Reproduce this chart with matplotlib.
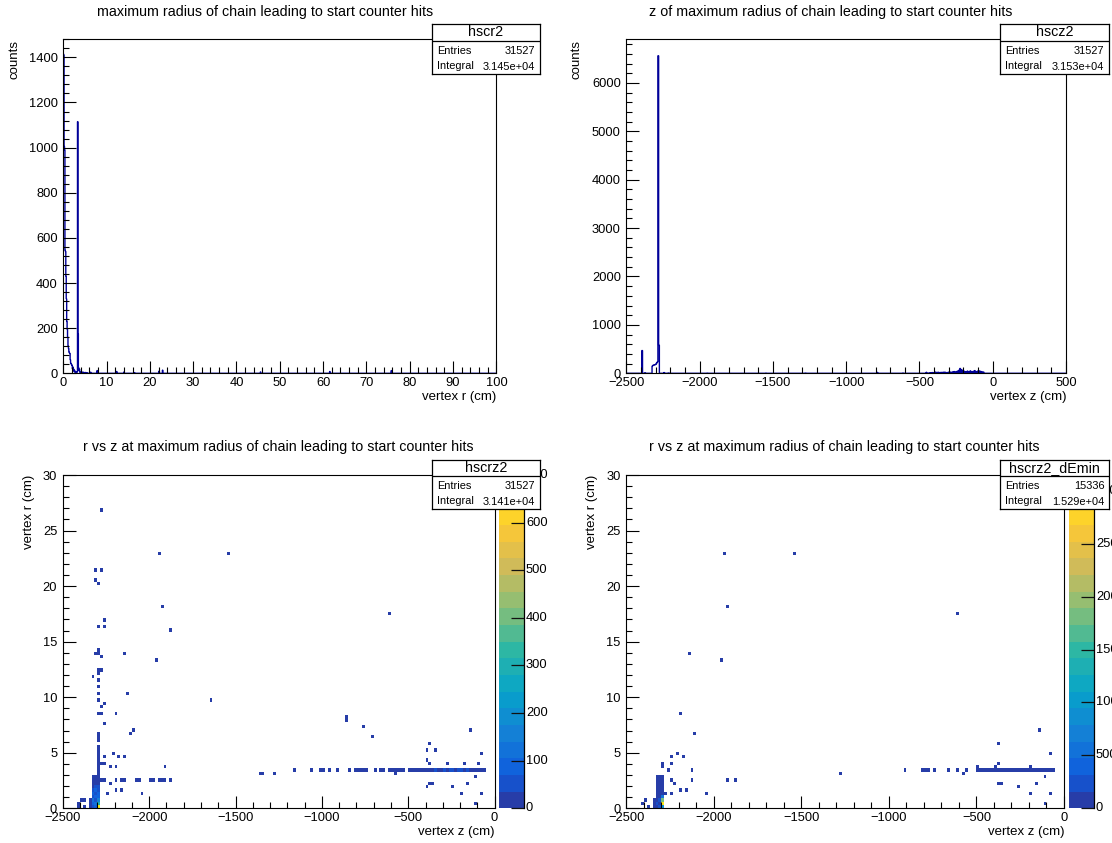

# =============================================================================
# start counter chain plots — 2x2 canvas, ROOT look-alike
# =============================================================================
import numpy as np
import matplotlib
matplotlib.use("Agg")
import matplotlib.pyplot as plt
import matplotlib.transforms as mtransforms
from matplotlib.colors import LinearSegmentedColormap, ListedColormap, BoundaryNorm
from matplotlib.ticker import MultipleLocator, FixedLocator

plt.rcParams["font.family"] = ["Liberation Sans", "DejaVu Sans"]


# SECTION 1 — DATA

# r histogram, 0.1 cm bins — bin centres and counts of the non-empty bins
R_CENTERS = [0.05, 0.15, 0.25, 0.35, 0.45, 0.55, 0.65, 0.75, 0.85, 0.95,
             1.05, 1.15, 1.25, 1.35, 1.45, 1.55, 1.65, 1.75, 1.85, 1.95,
             2.05, 2.15, 2.25, 2.35, 2.45, 2.55, 2.65, 2.75, 2.85, 2.95,
             3.05, 3.15, 3.25, 3.35, 3.45, 3.55, 3.65, 3.75, 3.85, 3.95,
             4.15, 4.55, 5.05, 5.45, 6.35, 7.85, 12.35, 14.05, 16.45,
             22.15, 22.95, 45.55, 61.55, 75.75]
R_COUNTS = [1415, 1410, 1005, 990, 545, 540, 430, 330, 230, 195,
            160, 120, 110, 95, 90, 88, 60, 45, 42, 38,
            35, 20, 28, 12, 18, 8, 6, 10, 5, 4,
            6, 4, 8, 1115, 175, 25, 12, 18, 6, 4,
            5, 6, 4, 3, 5, 12, 8, 6, 3,
            10, 14, 6, 8, 12]

# z histogram, 5 cm bins
Z_CENTERS = [-2392.5, -2372.5, -2322.5, -2317.5, -2312.5, -2307.5, -2302.5, -2297.5,
             -2292.5, -2287.5, -2282.5, -2277.5, -2242.5, -2212.5,
             -1947.5, -1547.5, -1277.5, -787.5, -612.5,
             -452.5, -432.5, -422.5, -412.5, -402.5, -392.5, -382.5, -372.5, -362.5, -352.5,
             -342.5, -332.5, -322.5, -312.5, -302.5, -292.5, -282.5, -272.5, -262.5, -252.5,
             -242.5, -232.5, -222.5, -212.5, -202.5, -192.5, -182.5, -172.5, -162.5, -152.5,
             -142.5, -132.5, -122.5, -112.5, -102.5, -92.5, -82.5, -72.5, -62.5]
Z_COUNTS = [470, 10, 150, 165, 170, 175, 180, 190,
            215, 235, 6560, 580, 15, 6,
            3, 3, 4, 18, 4,
            20, 8, 12, 15, 10, 25, 18, 22, 15, 20,
            18, 25, 20, 15, 22, 28, 20, 30, 35, 28,
            40, 60, 100, 75, 55, 40, 30, 45, 35, 50,
            30, 40, 55, 35, 45, 50, 40, 30, 25]

# 2D core block: columns in z, rows in r (bins of 16.7 cm x 0.3 cm)
CORE_Z = [-2342, -2325, -2308, -2292]
CORE_R = [0.15, 0.45, 0.75, 1.05, 1.35, 1.65, 1.95, 2.25, 2.55, 2.85]
CORE_ALL = [
    [4, 40, 90, 660],
    [6, 75, 130, 280],
    [3, 110, 60, 150],
    [0, 45, 95, 80],
    [0, 80, 40, 75],
    [0, 35, 70, 45],
    [0, 25, 40, 38],
    [0, 18, 22, 25],
    [0, 10, 12, 15],
    [0, 3, 5, 8],
]
CORE_DEMIN = [
    [3, 25, 180, 900],
    [5, 170, 60, 2950],
    [2, 35, 200, 1800],
    [0, 28, 45, 600],
    [0, 35, 30, 150],
    [0, 22, 35, 60],
    [0, 18, 25, 40],
    [0, 12, 15, 25],
    [0, 6, 8, 10],
    [0, 2, 3, 2],
]

# hscrz2: vertical column above the core at z = -2292
ALL_COL_R = [3.15, 3.45, 3.75, 4.05, 4.35, 4.65, 4.95, 5.25, 5.55, 6.15, 6.45, 6.75]
ALL_COL_W = [12, 15, 10, 8, 9, 7, 6, 8, 5, 4, 3, 3]

# hscrz2: scattered bins
ALL_PTS_Z = [-2271, -1950, -1546, -2304, -2273, -2304, -2290, -1921, -610, -2265,
             -2290, -2265, -1879, -2313, -2292, -2290, -2142, -2267, -1960, -2290,
             -2267, -2290, -2323, -2290, -2290, -2290, -2125, -1648, -2290, -2267,
             -2254, -2290, -2275, -2194, -865, -854, -2265, -754, -137, -2094,
             -2110, -708, -371, -340, -392, -83, -2213, -2254, -2171, -2142,
             -392, -267, -167, -100, -371, -2254, -2275, -1910, -2233, -2194,
             -2233, -2200, -2158, -2250, -2038, -379, -360, -250, -152, -110,
             -187, -83, -110, -398, -2402, -2408, -2388, -2371, -2379, -1354,
             -1344, -1277, -578]
ALL_PTS_R = [26.85, 22.95, 22.95, 21.45, 21.45, 20.55, 20.25, 18.15, 17.55, 16.95,
             16.35, 16.35, 16.05, 14.05, 14.35, 14.05, 14.05, 13.65, 13.35, 12.45,
             12.45, 12.15, 11.85, 11.55, 10.95, 10.35, 10.35, 9.75, 9.75, 9.15,
             9.45, 8.55, 8.55, 8.55, 8.25, 7.95, 7.65, 7.35, 7.05, 7.05,
             6.75, 6.45, 5.85, 5.25, 5.25, 4.95, 4.95, 4.65, 4.65, 4.65,
             4.35, 4.05, 4.05, 4.05, 4.05, 4.05, 4.05, 3.75, 3.75, 3.75,
             2.25, 1.65, 1.65, 1.35, 1.35, 2.25, 2.25, 1.95, 2.25, 2.85,
             1.35, 1.35, 0.45, 1.95, 0.45, 0.15, 0.75, 0.75, 0.15, 3.15,
             3.15, 3.15, 3.15]
ALL_PTS_W = [1, 1, 2, 2, 1, 2, 2, 2, 2, 2,
             2, 2, 1, 1, 1, 2, 1, 2, 2, 2,
             2, 2, 2, 2, 2, 2, 1, 1, 2, 2,
             2, 3, 3, 2, 2, 1, 2, 1, 2, 2,
             2, 2, 2, 1, 2, 2, 2, 2, 2, 1,
             2, 2, 1, 2, 2, 2, 2, 2, 2, 2,
             2, 1, 1, 2, 2, 1, 1, 2, 1, 1,
             1, 2, 1, 1, 2, 3, 1, 1, 2, 2,
             2, 2, 2]

# hscrz2: the r ~ 3.5 cm band
ALL_LINE_Z = [-1155, -1065, -1010, -1000, -955, -915, -845, -815, -795, -785,
              -775, -755, -735, -695, -685, -665, -645, -635, -615, -595,
              -575, -565, -555, -545, -535, -525,
              -495, -485, -475, -465, -455, -445, -435, -425, -415, -405,
              -395, -385, -375, -365, -355, -345, -335, -325, -315, -305,
              -295, -285, -275, -265, -255, -245, -235, -225, -215, -205,
              -195, -185, -175, -165, -155, -145, -135, -125, -115, -105,
              -95, -85, -75, -65]
ALL_LINE_W = [2, 2, 2, 2, 2, 2, 2, 2, 3, 3,
              2, 3, 2, 2, 3, 2, 3, 2, 2, 3,
              4, 5, 4, 6, 5, 4,
              12, 10, 14, 12, 15, 11, 13, 16, 12, 14,
              18, 15, 20, 17, 14, 16, 19, 15, 18, 16,
              20, 17, 22, 18, 25, 20, 24, 28, 22, 19,
              17, 21, 16, 18, 20, 15, 17, 14, 16, 12,
              13, 11, 10, 8]

# hscrz2: the r ~ 2.5 cm row
ALL_ROW_Z = [-2267, -2254, -2194, -2152, -2138, -2079, -2063, -1988, -1975,
             -1945, -1935, -1925, -1915, -1879]

# hscrz2_dEmin: scattered bins
DEM_PTS_Z = [-1945, -1544, -1918, -612, -2139, -1957, -2186, -2108, -139, -373,
             -82, -2207, -2246, -2168, -2289, -2246, -2290, -2260, -2129, -487,
             -393, -375, -190, -579, -1275, -2225, -2197, -2160, -2272, -2246,
             -2037, -375, -358, -252, -154, -113, -190, -82, -113, -2401,
             -2391, -2379]
DEM_PTS_R = [22.95, 22.95, 18.15, 17.55, 14.05, 13.35, 8.55, 6.75, 7.05, 5.85,
             4.95, 4.95, 4.65, 4.65, 4.05, 4.05, 3.75, 3.45, 3.45, 3.75,
             3.75, 4.05, 3.75, 3.15, 3.15, 2.25, 1.65, 1.65, 1.35, 1.35,
             1.35, 2.25, 2.25, 1.95, 2.25, 2.85, 1.35, 1.35, 0.45, 0.45,
             0.75, 0.15]
DEM_PTS_W = [1, 2, 2, 2, 1, 2, 2, 2, 2, 2,
             2, 2, 2, 2, 1, 2, 2, 2, 2, 2,
             2, 2, 1, 2, 2, 2, 1, 1, 2, 2,
             2, 1, 1, 2, 1, 1, 1, 2, 1, 2,
             1, 2]

# hscrz2_dEmin: the r ~ 3.5 cm band
DEM_LINE_Z = [-915, -805, -795, -785, -775, -735, -665, -605, -565,
              -485, -475, -465, -455, -445, -435, -425, -415, -405,
              -395, -385, -375, -365, -355, -345, -335, -325, -315, -305,
              -295, -285, -275, -265, -255, -245, -235, -225, -215, -205,
              -195, -185, -175, -165, -155, -145, -135, -125, -115, -105,
              -95, -85, -75, -65]
DEM_LINE_W = [2, 2, 3, 2, 2, 2, 2, 2, 2,
              8, 7, 9, 8, 10, 8, 9, 11, 8,
              12, 10, 13, 11, 9, 10, 12, 10, 11, 10,
              13, 11, 14, 12, 15, 13, 14, 16, 13, 12,
              11, 13, 10, 11, 12, 10, 11, 9, 10, 8,
              8, 7, 6, 5]

# hscrz2_dEmin: the r ~ 2.5 cm row
DEM_ROW_Z = [-2246, -2129, -1918, -1875]

# stats boxes and texts
STAT_NAMES    = ["hscr2", "hscz2", "hscrz2", "hscrz2_dEmin"]
STAT_ENTRIES  = ["31527", "31527", "31527", "15336"]
STAT_INTEGRAL = ["3.145e+04", "3.153e+04", "3.141e+04", "1.529e+04"]
TITLES = ["maximum radius of chain leading to start counter hits",
          "z of maximum radius of chain leading to start counter hits",
          "r vs z at maximum radius of chain leading to start counter hits",
          "r vs z at maximum radius of chain leading to start counter hits"]
XLABELS = ["vertex r (cm)", "vertex z (cm)", "vertex z (cm)", "vertex z (cm)"]
YLABELS = ["counts", "counts", "vertex r (cm)", "vertex r (cm)"]
Z_MAX_2D = [700, 3150]


# SECTION 2 — STYLE
W, H = 1112, 843
LINE_COL = "#000099"
TICK_FS = 9.3
LABEL_FS = 9.5
TITLE_FS = 10.3

# ROOT kBird palette, 20 contour bands
BIRD = [(0.2082, 0.1664, 0.5293), (0.0592, 0.3599, 0.8684), (0.0780, 0.5041, 0.8385),
        (0.0232, 0.6419, 0.7914), (0.1802, 0.7178, 0.6425), (0.5301, 0.7492, 0.4662),
        (0.8186, 0.7328, 0.3499), (0.9956, 0.7862, 0.1968), (0.9764, 0.9832, 0.0539)]
bird = LinearSegmentedColormap.from_list("bird", BIRD, N=256)
N_BANDS = 20
band_cmap = ListedColormap([bird((i + 0.99) / N_BANDS) for i in range(N_BANDS)])


def px_rect(l, t, r, b):
    return [l / W, 1 - b / H, (r - l) / W, (b - t) / H]


def ftext(x, y, s, **kw):
    return fig.text(x / W, 1 - y / H, s, **kw)


def style_axis(ax, xmaj, xmin, ymaj, ymin):
    ax.xaxis.set_major_locator(MultipleLocator(xmaj))
    ax.xaxis.set_minor_locator(MultipleLocator(xmin))
    ax.yaxis.set_major_locator(MultipleLocator(ymaj))
    ax.yaxis.set_minor_locator(MultipleLocator(ymin))
    ax.tick_params(which="both", direction="in", top=False, right=False,
                   width=0.8, colors="black", labelsize=TICK_FS)
    ax.tick_params(which="major", length=9)
    ax.tick_params(which="minor", length=4.6)
    ax.tick_params(axis="x", pad=2.5)
    ax.tick_params(axis="y", pad=4.0)
    for sp in ax.spines.values():
        sp.set_linewidth(0.8)


def stats_box(l, t, r, b, div, name, entries, integral):
    sax = fig.add_axes(px_rect(l, t, r, b), zorder=10)
    sax.set_xlim(0, 1)
    sax.set_ylim(0, 1)
    sax.set_xticks([])
    sax.set_yticks([])
    for sp in sax.spines.values():
        sp.set_linewidth(0.9)
    sax.axhline((b - div) / (b - t), color="black", lw=0.9)
    ftext((l + r) / 2, (t + div) / 2, name, ha="center", va="center", fontsize=TITLE_FS, zorder=11)
    row1 = div + (b - div) * 0.3
    row2 = div + (b - div) * 0.75
    ftext(l + 5, row1, "Entries", ha="left", va="center", fontsize=7.9, zorder=11)
    ftext(r - 4.5, row1, entries, ha="right", va="center", fontsize=7.9, zorder=11)
    ftext(l + 5, row2, "Integral", ha="left", va="center", fontsize=7.9, zorder=11)
    ftext(r - 4.5, row2 + 1, integral, ha="right", va="center", fontsize=7.9, zorder=11)


fig = plt.figure(figsize=(W / 100, H / 100), dpi=100)
fig.patch.set_facecolor("white")


# SECTION 3 — TOP LEFT: r histogram
ax1 = fig.add_axes(px_rect(63.2, 39.3, 496.4, 373.3))
r_edges = np.linspace(0, 100, 1001)
r_vals, _ = np.histogram(R_CENTERS, bins=r_edges, weights=R_COUNTS)
ax1.stairs(r_vals, r_edges, color=LINE_COL, linewidth=1.0)
ax1.set_xlim(0, 100)
ax1.set_ylim(0, 1480)
style_axis(ax1, 10, 2, 200, 40)

# SECTION 4 — TOP RIGHT: z histogram
ax2 = fig.add_axes(px_rect(626.4, 39.3, 1066, 373.3))
z_edges = np.linspace(-2500, 500, 601)
z_vals, _ = np.histogram(Z_CENTERS, bins=z_edges, weights=Z_COUNTS)
ax2.stairs(z_vals, z_edges, color=LINE_COL, linewidth=1.0)
ax2.set_xlim(-2500, 500)
ax2.set_ylim(0, 6900)
style_axis(ax2, 500, 100, 1000, 200)


# SECTION 5 — BOTTOM: r vs z maps
def fill_2d(core, pts_z, pts_r, pts_w, line_z, line_w, row_z, col_r=None, col_w=None):
    zs, rs, ws = [], [], []
    for i, rc in enumerate(CORE_R):
        for j, zc in enumerate(CORE_Z):
            zs.append(zc); rs.append(rc); ws.append(core[i][j])
    zs += pts_z; rs += pts_r; ws += pts_w
    zs += line_z; rs += [3.45] * len(line_z); ws += line_w
    zs += row_z; rs += [2.55] * len(row_z); ws += [2] * len(row_z)
    if col_r is not None:
        zs += [-2292] * len(col_r); rs += col_r; ws += col_w
    hz = np.linspace(-2500, 0, 151)
    hr = np.linspace(0, 30, 101)
    hist, _, _ = np.histogram2d(zs, rs, bins=[hz, hr], weights=ws)
    return hz, hr, hist


maps = [
    fill_2d(CORE_ALL, ALL_PTS_Z, ALL_PTS_R, ALL_PTS_W, ALL_LINE_Z, ALL_LINE_W, ALL_ROW_Z,
            ALL_COL_R, ALL_COL_W),
    fill_2d(CORE_DEMIN, DEM_PTS_Z, DEM_PTS_R, DEM_PTS_W, DEM_LINE_Z, DEM_LINE_W, DEM_ROW_Z),
]
map_rects = [(62.8, 475, 494.6, 808.3), (626.4, 475, 1064, 808.3)]
cbar_rects = [(499, 475, 524, 808.3), (1069, 475, 1094, 808.3)]
cbar_steps = [100, 500]
clip_right = [551, W]

for k in range(2):
    hz, hr, hist = maps[k]
    zmax = Z_MAX_2D[k]
    levels = np.linspace(0, zmax, N_BANDS + 1)
    norm = BoundaryNorm(levels, N_BANDS)
    ax = fig.add_axes(px_rect(*map_rects[k]))
    ax.pcolormesh(hz, hr, np.ma.masked_equal(hist.T, 0), cmap=band_cmap, norm=norm,
                  shading="flat", antialiased=False, linewidth=0)
    ax.set_xlim(-2500, 0)
    ax.set_ylim(0, 30)
    style_axis(ax, 500, 100, 5, 1)

    # palette
    cax = fig.add_axes(px_rect(*cbar_rects[k]))
    mids = ((levels[:-1] + levels[1:]) / 2).reshape(-1, 1)
    cax.pcolormesh([0, 1], levels, mids, cmap=band_cmap, norm=norm, shading="flat",
                   antialiased=False, linewidth=0)
    cax.set_xlim(0, 1)
    cax.set_ylim(0, zmax)
    cax.set_xticks([])
    ticks = list(range(0, int(zmax) + 1, cbar_steps[k]))
    cax.yaxis.set_major_locator(FixedLocator(ticks))
    cax.yaxis.set_ticks_position("right")
    cax.tick_params(axis="y", direction="in", length=9.2, width=0.9, colors="#111111",
                    labelright=False, labelleft=False)
    for side in ("left", "top", "bottom"):
        cax.spines[side].set_visible(False)
    cax.spines["right"].set_linewidth(0.9)
    trans = mtransforms.blended_transform_factory(cax.transAxes, cax.transData)
    clip = mtransforms.TransformedBbox(
        mtransforms.Bbox.from_extents(0, 0, clip_right[k] / W, 1), fig.transFigure)
    for v in ticks:
        t = fig.text(1.08, v, str(v), transform=trans, ha="left", va="center",
                     fontsize=TICK_FS, clip_on=True)
        t.set_clip_box(clip)


# SECTION 6 — TEXTS AND STATS BOXES
title_pos = [(265.4, 12), (830.6, 12), (278, 447.3), (844, 447.3)]
xlab_pos = [(496.4, 397), (1066, 397), (495, 832), (1064, 832)]
ylab_pos = [(14.5, 40), (576, 40), (29.4, 475), (592.3, 475)]
for i in range(4):
    ftext(*title_pos[i], TITLES[i], ha="center", va="center", fontsize=TITLE_FS)
    ftext(*xlab_pos[i], XLABELS[i], ha="right", va="center", fontsize=LABEL_FS)
    ftext(*ylab_pos[i], YLABELS[i], ha="center", va="top", rotation=90, fontsize=LABEL_FS)

box_geo = [(432, 24.3, 539.5, 74, 40.7), (1000, 24.3, 1109, 74, 40.7),
           (432, 460, 539.5, 509.3, 476), (1000, 460, 1109, 509.3, 476)]
for i in range(4):
    stats_box(*box_geo[i], STAT_NAMES[i], STAT_ENTRIES[i], STAT_INTEGRAL[i])

fig.savefig("out.png", dpi=100, facecolor="white")
